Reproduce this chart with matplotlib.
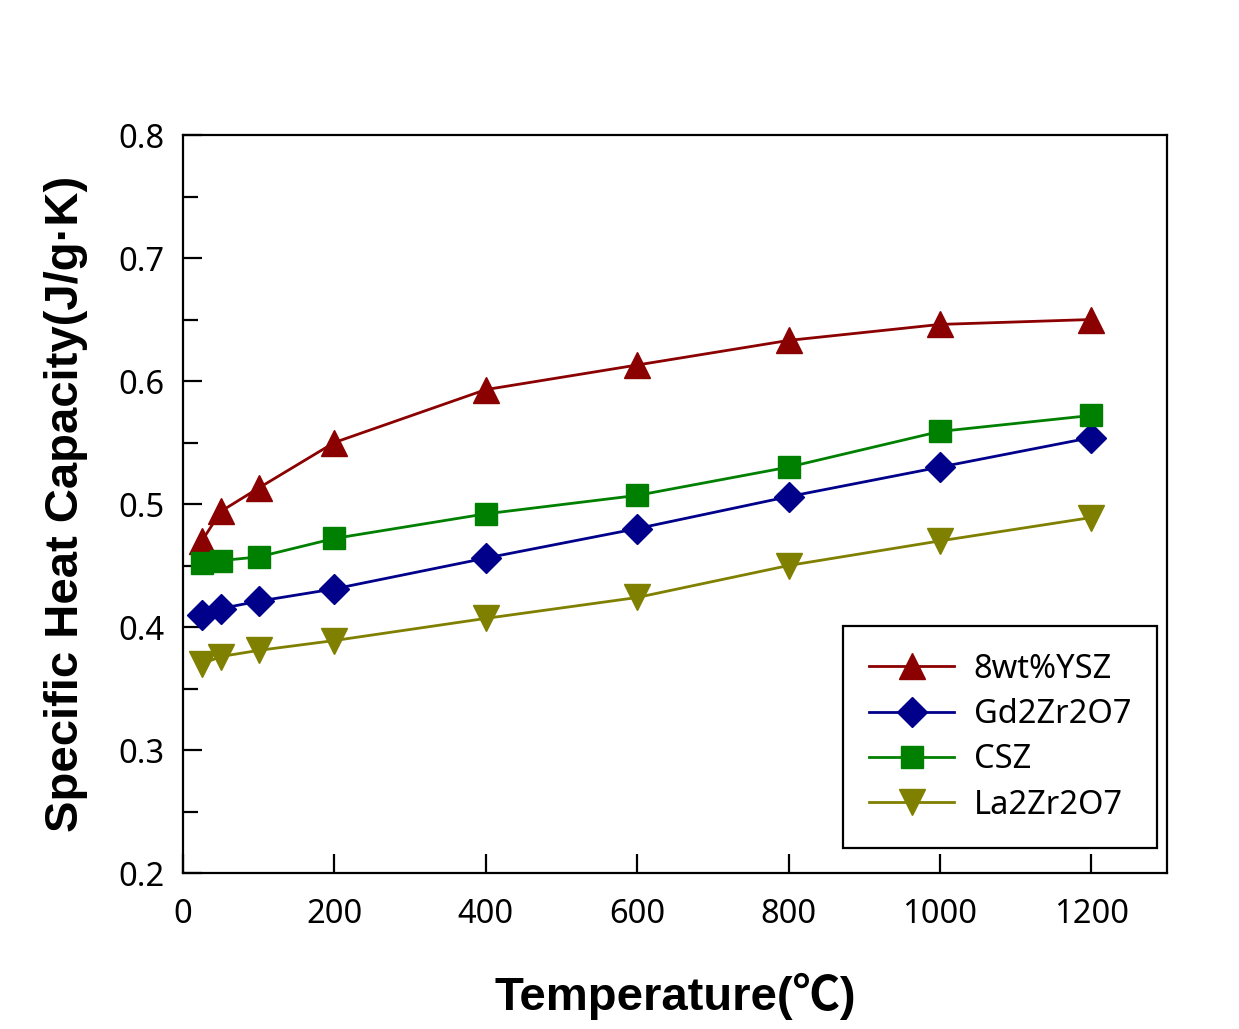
import numpy as np
import matplotlib
matplotlib.use("Agg")
import matplotlib.pyplot as plt
from matplotlib.ticker import MultipleLocator

# temperatures (deg C)
temp = [25, 50, 100, 200, 400, 600, 800, 1000, 1200]

# specific heat capacity (J/g.K)
ysz = [0.470, 0.494, 0.513, 0.550, 0.593, 0.613, 0.633, 0.646, 0.650]
gd2zr2o7 = [0.410, 0.415, 0.421, 0.431, 0.456, 0.480, 0.506, 0.530, 0.554]
csz = [0.452, 0.454, 0.457, 0.472, 0.492, 0.507, 0.530, 0.559, 0.572]
la2zr2o7 = [0.370, 0.376, 0.381, 0.389, 0.407, 0.424, 0.450, 0.470, 0.489]

series_labels = ["8wt%YSZ", "Gd2Zr2O7", "CSZ", "La2Zr2O7"]

C_YSZ = "#8B0000"
C_GD = "#00008B"
C_CSZ = "#008000"
C_LA = "#808000"

plt.rcParams["font.family"] = ["Noto Sans", "DejaVu Sans"]

fig = plt.figure(figsize=(12.39, 10.29), dpi=100)
ax = fig.add_axes([0.1477, 0.1516, 0.7942, 0.7172])

lw = 2.0
ax.plot(temp, ysz, marker="^", ms=19, color=C_YSZ, mec=C_YSZ, lw=lw, label=series_labels[0])
ax.plot(temp, gd2zr2o7, marker="D", ms=15, color=C_GD, mec=C_GD, lw=lw, label=series_labels[1])
ax.plot(temp, csz, marker="s", ms=16, color=C_CSZ, mec=C_CSZ, lw=lw, label=series_labels[2])
ax.plot(temp, la2zr2o7, marker="v", ms=19, color=C_LA, mec=C_LA, lw=lw, label=series_labels[3])

ax.set_xlim(0, 1300)
ax.set_ylim(0.2, 0.8)
ax.xaxis.set_major_locator(MultipleLocator(200))
ax.yaxis.set_major_locator(MultipleLocator(0.1))
ax.yaxis.set_minor_locator(MultipleLocator(0.05))
ax.yaxis.set_major_formatter(matplotlib.ticker.FormatStrFormatter("%.1f"))

ax.tick_params(axis="both", which="major", direction="in", length=14, width=1.6,
               labelsize=23.5)
ax.tick_params(axis="x", which="major", pad=18)
ax.tick_params(axis="y", which="major", pad=13)
ax.tick_params(axis="y", which="minor", direction="in", length=11, width=1.6)
for spine in ax.spines.values():
    spine.set_linewidth(1.6)

lab_font = dict(family=["Liberation Sans", "Noto Sans CJK KR"], fontweight="bold", fontsize=34)
ax.set_xlabel("Temperature(℃)", labelpad=30, **lab_font)
ax.set_ylabel("Specific Heat Capacity(J/g·K)", labelpad=22, **lab_font)

leg = ax.legend(loc="lower right", bbox_to_anchor=(0.99, 0.034), fontsize=23.5,
                frameon=True, fancybox=False, edgecolor="black", framealpha=1,
                handlelength=2.6, borderpad=0.8, labelspacing=0.38,
                handletextpad=0.6, borderaxespad=0)
leg.get_frame().set_linewidth(1.6)

fig.savefig("out.png", dpi=100)
